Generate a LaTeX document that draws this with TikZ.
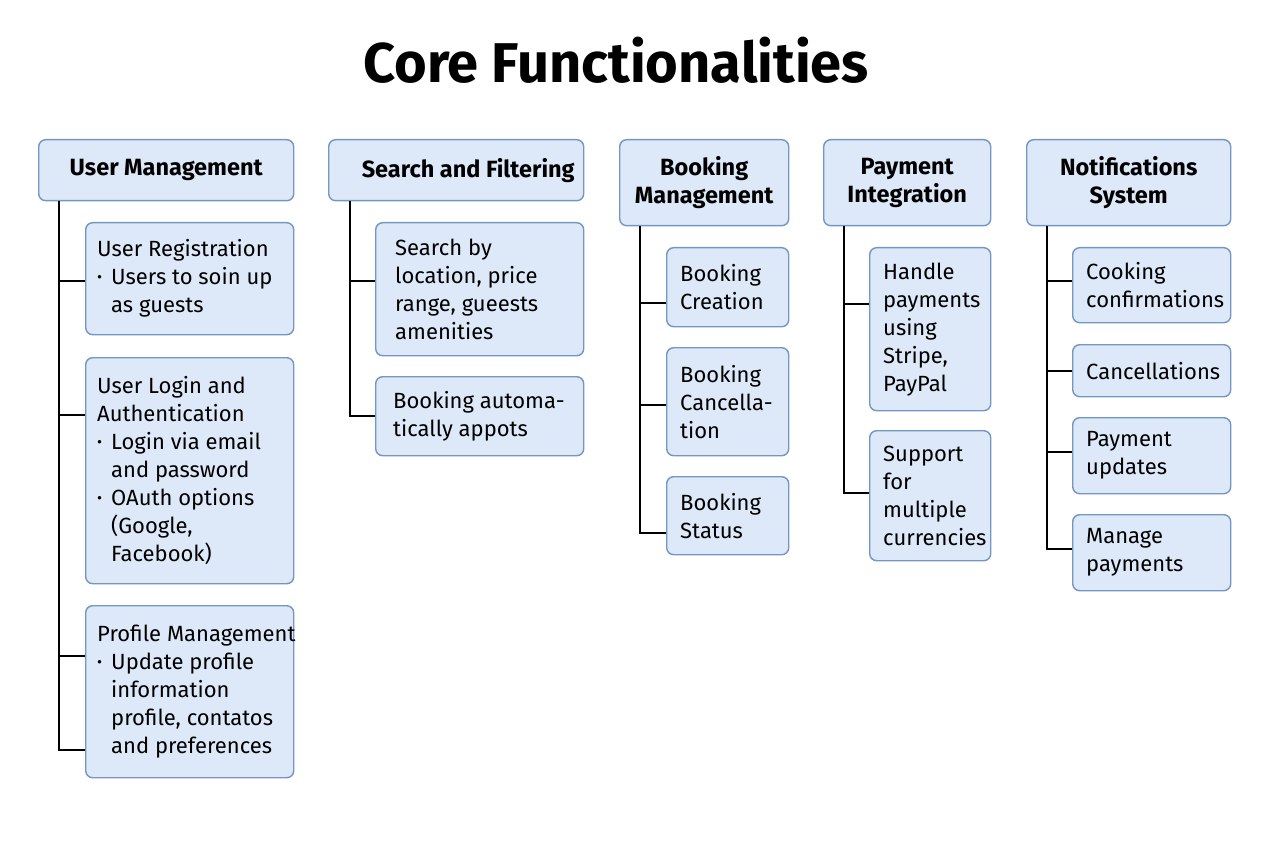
\documentclass[tikz,border=0pt]{standalone}
\usepackage{fontspec}
\setmainfont{Fira Sans}
\usetikzlibrary{calc}
\definecolor{boxfill}{HTML}{DDE9F8}
\definecolor{boxdraw}{HTML}{7396C2}
\newcommand\bul{\makebox[14pt][l]{\raisebox{0.1em}{\scalebox{0.7}{•}}}}
\newcommand\ind{\hspace*{14pt}}
\begin{document}
\begin{tikzpicture}[x=1pt,y=-1pt,
  box/.style={draw=boxdraw, fill=boxfill, line width=1.4pt, rounded corners=7pt, anchor=north west, inner sep=0pt},
  hdrtext/.style={align=center, inner sep=0pt, font=\fontsize{23.5}{28}\selectfont\bfseries},
  itemtext/.style={anchor=west, align=left, inner sep=0pt, font=\fontsize{22}{28}\selectfont},
  conn/.style={line width=2pt, black}]
\useasboundingbox (0,0) rectangle (1280,853);
\node[font=\fontsize{56}{60}\selectfont\bfseries] (title) at (616,60) {Core Functionalities};

% headers
\node[box, minimum width=255pt, minimum height=61pt] (h1) at (38,139) {};
\node[hdrtext] (h1t) at (h1.center) {User Management};
\node[box, minimum width=255pt, minimum height=61pt] (h2) at (328,139) {};
\node[hdrtext] (h2t) at ([xshift=12pt]h2.center) {Search and Filtering};
\node[box, minimum width=169pt, minimum height=86pt] (h3) at (619,139) {};
\node[hdrtext] (h3t) at (h3.center) {Booking\\Management};
\node[box, minimum width=167pt, minimum height=86pt] (h4) at (823,139) {};
\node[hdrtext] (h4t) at (h4.center) {Payment\\Integration};
\node[box, minimum width=204pt, minimum height=86pt] (h5) at (1026,139) {};
\node[hdrtext] (h5t) at (h5.center) {Notifications\\System};

% column 1
\node[box, minimum width=208pt, minimum height=112pt] (c11) at (85,222) {};
\node[itemtext] (c11t) at ([xshift=12pt]c11.west) {User Registration\\\bul Users to soin up\\\ind as guests};
\node[box, minimum width=208pt, minimum height=226pt] (c12) at (85,357) {};
\node[itemtext] (c12t) at ([xshift=12pt]c12.west) {User Login and\\Authentication\\\bul Login via email\\\ind and password\\\bul OAuth options\\\ind (Google,\\\ind Facebook)};
\node[box, minimum width=208pt, minimum height=172pt] (c13) at (85,605) {};
\node[itemtext] (c13t) at ([xshift=12pt]c13.west) {Profile Management\\\bul Update profile\\\ind information\\\ind profile, contatos\\\ind and preferences};

% column 2
\node[box, minimum width=208pt, minimum height=133pt] (c21) at (375,222) {};
\node[itemtext] (c21t) at ([xshift=20pt]c21.west) {Search by\\location, price\\range, gueests\\amenities};
\node[box, minimum width=208pt, minimum height=79pt] (c22) at (375,376) {};
\node[itemtext] (c22t) at ([xshift=18pt]c22.west) {Booking automa-\\tically appots};

% column 3
\node[box, minimum width=122pt, minimum height=79pt] (c31) at (666,247) {};
\node[itemtext] (c31t) at ([xshift=14pt]c31.west) {Booking\\Creation};
\node[box, minimum width=122pt, minimum height=108pt] (c32) at (666,347) {};
\node[itemtext] (c32t) at ([xshift=14pt]c32.west) {Booking\\Cancella-\\tion};
\node[box, minimum width=122pt, minimum height=78pt] (c33) at (666,476) {};
\node[itemtext] (c33t) at ([xshift=14pt]c33.west) {Booking\\Status};

% column 4
\node[box, minimum width=121pt, minimum height=163pt] (c41) at (869,247) {};
\node[itemtext] (c41t) at ([xshift=14pt]c41.west) {Handle\\payments\\using\\Stripe,\\PayPal};
\node[box, minimum width=121pt, minimum height=130pt] (c42) at (869,430) {};
\node[itemtext] (c42t) at ([xshift=14pt]c42.west) {Support\\for\\multiple\\currencies};

% column 5
\node[box, minimum width=158pt, minimum height=75pt] (c51) at (1072,247) {};
\node[itemtext] (c51t) at ([xshift=14pt]c51.west) {Cooking\\confirmations};
\node[box, minimum width=158pt, minimum height=52pt] (c52) at (1072,344) {};
\node[itemtext] (c52t) at ([xshift=14pt]c52.west) {Cancellations};
\node[box, minimum width=158pt, minimum height=76pt] (c53) at (1072,417) {};
\node[itemtext] (c53t) at ([xshift=14pt]c53.west) {Payment\\updates};
\node[box, minimum width=158pt, minimum height=76pt] (c54) at (1072,514) {};
\node[itemtext] (c54t) at ([xshift=14pt]c54.west) {Manage\\payments};

% trunks
\coordinate (t1) at (59,0);
\coordinate (t2) at (350,0);
\coordinate (t3) at (640,0);
\coordinate (t4) at (844,0);
\coordinate (t5) at (1047,0);

% branch points
\coordinate (b11) at ([yshift=-2pt]c11.west);
\coordinate (b12) at ([yshift=56pt]c12.west);
\coordinate (b13a) at ([yshift=36pt]c13.west);
\coordinate (b13b) at ([yshift=-58pt]c13.west);
\coordinate (b21) at ([yshift=8pt]c21.west);
\coordinate (b22) at (c22.west);
\coordinate (b31) at ([yshift=-16pt]c31.west);
\coordinate (b32) at ([yshift=-3pt]c32.west);
\coordinate (b33) at ([yshift=-17pt]c33.west);
\coordinate (b41) at ([yshift=25pt]c41.west);
\coordinate (b42) at ([yshift=3pt]c42.west);
\coordinate (b51) at ([yshift=4pt]c51.west);
\coordinate (b52) at (c52.west);
\coordinate (b53) at ([yshift=4pt]c53.west);
\coordinate (b54) at ([yshift=4pt]c54.west);

\draw[conn] (h1.south -| t1) |- (b13b);
\draw[conn] (t1 |- b11) -- (b11);
\draw[conn] (t1 |- b12) -- (b12);
\draw[conn] (t1 |- b13a) -- (b13a);

\draw[conn] (h2.south -| t2) |- (b22);
\draw[conn] (t2 |- b21) -- (b21);

\draw[conn] (h3.south -| t3) |- (b33);
\draw[conn] (t3 |- b31) -- (b31);
\draw[conn] (t3 |- b32) -- (b32);

\draw[conn] (h4.south -| t4) |- (b42);
\draw[conn] (t4 |- b41) -- (b41);

\draw[conn] (h5.south -| t5) |- (b54);
\draw[conn] (t5 |- b51) -- (b51);
\draw[conn] (t5 |- b52) -- (b52);
\draw[conn] (t5 |- b53) -- (b53);
\end{tikzpicture}
\end{document}
